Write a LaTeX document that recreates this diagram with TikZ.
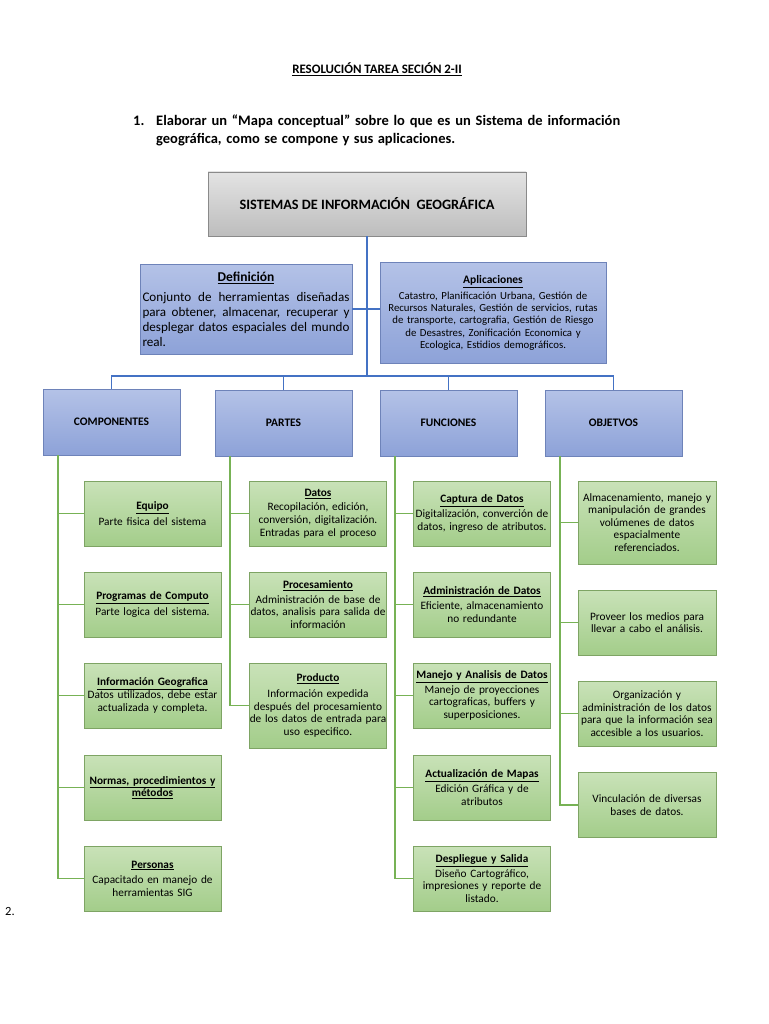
\documentclass[tikz,border=0pt]{standalone}
\usepackage{fontspec}
\setmainfont{Carlito}
\definecolor{graytop}{HTML}{E3E3E3}
\definecolor{graybot}{HTML}{BDBDBD}
\definecolor{grayborder}{HTML}{8A8A8A}
\definecolor{bluetop}{HTML}{B4C2E7}
\definecolor{bluebot}{HTML}{8DA2D8}
\definecolor{blueborder}{HTML}{6E83B9}
\definecolor{greentop}{HTML}{C9E2B8}
\definecolor{greenbot}{HTML}{A3CD8A}
\definecolor{greenborder}{HTML}{7EA464}
\definecolor{lineblue}{HTML}{4472C4}
\definecolor{linegreen}{HTML}{77B255}
\newcommand\boxhead[1]{{\bfseries\underline{#1}}}
\tikzset{
  graybox/.style={draw=grayborder, top color=graytop, bottom color=graybot, minimum width=318pt, minimum height=64pt, inner sep=0pt, font=\fontsize{14.3}{16}\selectfont\bfseries},
  bluebox/.style={draw=blueborder, top color=bluetop, bottom color=bluebot, inner sep=2pt},
  catbox/.style={bluebox, minimum width=137pt, minimum height=66pt, font=\fontsize{11.5}{13}\selectfont\bfseries},
  greenbox/.style={draw=greenborder, top color=greentop, bottom color=greenbot, minimum width=137pt, minimum height=65pt, inner sep=0pt, text width=137pt, align=center, font=\fontsize{11.3}{12.6}\selectfont},
  bline/.style={draw=lineblue, line width=1.3pt},
  gline/.style={draw=linegreen, line width=1.8pt},
}
\begin{document}
\begin{tikzpicture}[x=1pt,y=-1pt]
\useasboundingbox[fill=white] (0,0) rectangle (768,1024);

% header
\node (title) at (377,69) {\fontsize{12.9}{15}\selectfont\bfseries\underline{RESOLUCIÓN TAREA SECIÓN 2-II}};
\node[anchor=base west, inner sep=0pt] (num) at (133,126) {\fontsize{14.5}{17}\selectfont\bfseries 1.};
\node[anchor=base west, inner sep=0pt] (l1) at (156,126) {\fontsize{14.5}{17}\selectfont\bfseries\makebox[464pt][s]{Elaborar un “Mapa conceptual” sobre lo que es un Sistema de información}};
\node[anchor=base west, inner sep=0pt] (l2) at (156,144) {\fontsize{14.5}{17}\selectfont\bfseries\makebox[299pt][s]{geográfica, como se compone y sus aplicaciones.}};

% main box
\node[graybox] (sig) at (367,204) {SISTEMAS DE INFORMACIÓN~~GEOGRÁFICA};

% definition and applications
\node[bluebox, minimum width=212pt, minimum height=90pt, text width=207pt, align=justify] (def) at (246,309)
  {{\centering\fontsize{13.5}{15}\selectfont\boxhead{Definición}\par}\vspace{6pt}%
   {\fontsize{13.1}{14.7}\selectfont\noindent Conjunto de herramientas diseñadas para obtener, almacenar, recuperar y desplegar datos espaciales del mundo real.\par}};
\node[bluebox, minimum width=226pt, minimum height=101pt, inner sep=0pt, text width=226pt, align=center, font=\fontsize{10.8}{12.3}\selectfont] (apl) at (493,313)
  {{\fontsize{11.5}{13}\selectfont\boxhead{Aplicaciones}}\\[3pt]
   Catastro, Planificación Urbana, Gestión de\\
   Recursos Naturales, Gestión de servicios, rutas\\
   de transporte, cartografia, Gestión de Riesgo\\
   de Desastres, Zonificación Economica y\\
   Ecologica, Estidios demográficos.};

% categories
\node[catbox] (comp) at (111.5,422) {COMPONENTES};
\node[catbox] (parts) at (283.5,423) {PARTES};
\node[catbox] (func) at (448.5,423) {FUNCIONES};
\node[catbox] (obj) at (613.5,423) {OBJETVOS};

% blue connectors
\coordinate (bus) at (367,376);
\draw[bline] (sig.south) -- (bus);
\draw[bline] (def.east) -- (def.east -| apl.west);
\draw[bline] (comp.north) -- (comp.north |- bus) -- (obj.north |- bus) -- (obj.north);
\draw[bline] (parts.north) -- (parts.north |- bus);
\draw[bline] (func.north) -- (func.north |- bus);

% column 1: componentes
\node[greenbox] (equipo) at (152.5,513.5) {\boxhead{Equipo}\\[3pt]Parte fisica del sistema};
\node[greenbox] (progr) at (152.5,604.5) {\boxhead{Programas de Computo}\\[3pt]Parte logica del sistema.};
\node[greenbox] (infog) at (152.5,695.5) {\boxhead{Información Geografica}\\Datos utilizados, debe estar\\actualizada y completa.};
\node[greenbox] (normas) at (152.5,787.5) {\boxhead{Normas, procedimientos y}\\\boxhead{métodos}};
\node[greenbox] (pers) at (152.5,878.5) {\boxhead{Personas}\\[3pt]Capacitado en manejo de\\herramientas SIG};

% column 2: partes
\node[greenbox] (datos) at (318,513.5) {\boxhead{Datos}\\[2pt]Recopilación, edición,\\conversión, digitalización.\\Entradas para el proceso};
\node[greenbox] (proc) at (318,604.5) {\boxhead{Procesamiento}\\[2pt]Administración de base de\\datos, analisis para salida de\\información};
\node[greenbox, minimum height=85pt] (prod) at (318,705.5) {\boxhead{Producto}\\[3pt]Información expedida\\después del procesamiento\\de los datos de entrada para\\uso especifico.};

% column 3: funciones
\node[greenbox] (capt) at (482,513.5) {\boxhead{Captura de Datos}\\[2pt]Digitalización, converción de\\datos, ingreso de atributos.};
\node[greenbox] (admin) at (482,604.5) {\boxhead{Administración de Datos}\\[2pt]Eficiente, almacenamiento\\no redundante};
\node[greenbox] (manejo) at (482,695.5) {\boxhead{Manejo y Analisis de Datos}\\[2pt]Manejo de proyecciones\\cartograficas, buffers y\\superposiciones.};
\node[greenbox] (actual) at (482,787.5) {\boxhead{Actualización de Mapas}\\[2pt]Edición Gráfica y de\\atributos};
\node[greenbox] (despl) at (482,878.5) {\boxhead{Despliegue y Salida}\\[2pt]Diseño Cartográfico,\\impresiones y reporte de\\listado.};

% column 4: objetivos
\node[greenbox, minimum width=138pt, text width=138pt, minimum height=83pt] (alm) at (647,522.5) {Almacenamiento, manejo y\\manipulación de grandes\\volúmenes de datos\\espacialmente\\referenciados.};
\node[greenbox, minimum width=138pt, text width=138pt] (prov) at (647,622.5) {Proveer los medios para\\llevar a cabo el análisis.};
\node[greenbox, minimum width=138pt, text width=138pt] (org) at (647,713.5) {Organización y\\administración de los datos\\para que la información sea\\accesible a los usuarios.};
\node[greenbox, minimum width=138pt, text width=138pt] (vinc) at (647,805) {Vinculación de diversas\\bases de datos.};

% green connectors
\coordinate (c1) at ([xshift=15pt]comp.south west);
\coordinate (c2) at ([xshift=15pt]parts.south west);
\coordinate (c3) at ([xshift=15pt]func.south west);
\coordinate (c4) at ([xshift=15pt]obj.south west);
\foreach \n in {equipo,progr,infog,normas,pers} \draw[gline] (c1) |- (\n.west);
\foreach \n in {datos,proc,prod} \draw[gline] (c2) |- (\n.west);
\foreach \n in {capt,admin,manejo,actual,despl} \draw[gline] (c3) |- (\n.west);
\foreach \n in {alm,prov,org,vinc} \draw[gline] (c4) |- (\n.west);

\node[anchor=base west, inner sep=0pt] (two) at (5,915) {\fontsize{12.5}{14}\selectfont 2.};
\end{tikzpicture}
\end{document}
